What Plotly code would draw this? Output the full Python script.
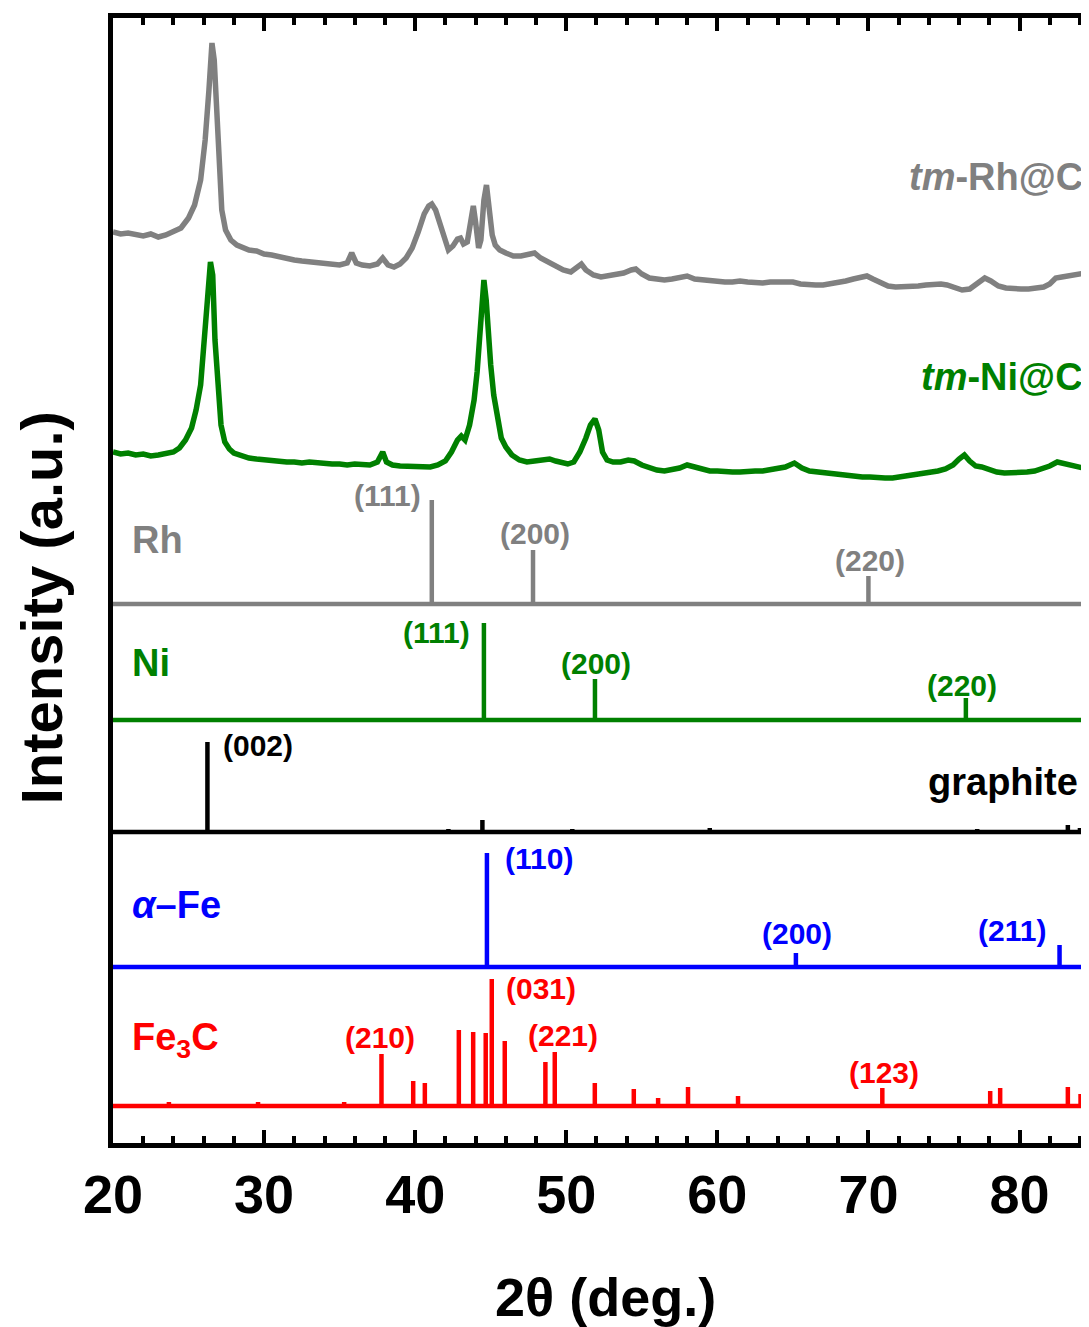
import plotly.graph_objects as go

# ---------------- data ----------------
# measured XRD patterns (2theta, relative intensity)
rh_tt = [20.0,20.5,21.0,21.5,22.0,22.5,23.0,23.5,24.0,24.5,25.0,25.4,25.8,26.1,26.35,26.55,26.7,26.85,27.0,27.2,27.45,27.8,28.2,28.6,29.0,29.5,30.0,30.5,31.0,31.5,32.0,32.5,33.0,33.5,34.0,34.5,35.0,35.5,35.8,36.1,36.5,37.0,37.5,37.85,38.2,38.6,39.0,39.4,39.8,40.2,40.6,40.9,41.1,41.35,41.6,41.9,42.2,42.5,42.8,43.0,43.2,43.45,43.7,43.85,44.0,44.2,44.35,44.55,44.72,44.9,45.1,45.3,45.6,46.0,46.5,47.0,47.5,47.9,48.3,48.8,49.3,49.8,50.3,50.7,51.0,51.3,51.8,52.3,52.8,53.3,53.8,54.3,54.6,55.0,55.5,56.0,56.5,57.0,57.5,58.0,58.5,59.0,59.5,60.0,60.5,61.0,61.5,62.0,62.5,63.0,63.5,64.0,64.5,65.0,65.5,66.0,66.5,67.0,67.5,68.0,68.5,69.0,69.5,69.9,70.3,70.8,71.3,71.8,72.3,72.8,73.3,73.8,74.3,74.8,75.2,75.7,76.2,76.7,77.2,77.7,78.1,78.6,79.1,79.6,80.1,80.6,81.1,81.6,82.0,82.4,82.8,83.3,83.8,84.3,84.8]
rh_int = [68,66,67,65,64,66,63,65,68,72,82,95,120,160,210,257,240,190,130,90,70,60,55,53,50,49,46,45,43,42,40,39,38,38,36,36,35,37,47,37,35,34,36,42,35,33,36,42,52,68,86,94,96,90,78,60,50,54,61,62,56,58,85,94,78,52,60,100,115,95,65,55,50,47,44,44,46,47,42,38,34,30,28,32,36,30,25,23,24,25,27,30,31,26,22,21,20,21,22,24,21,20,19,19,18,18,19,18,17,17,18,18,19,18,16,15,15,15,16,17,19,21,23,24,21,17,14,13,13,14,14,15,16,16,15,12,10,11,16,22,19,14,12,11,11,11,12,13,16,22,23,24,25,27,28]

ni_tt = [20.0,20.5,21.0,21.5,22.0,22.5,23.0,23.5,24.0,24.4,24.8,25.2,25.5,25.8,26.05,26.25,26.45,26.6,26.75,26.95,27.15,27.4,27.7,28.0,28.5,29.0,29.5,30.0,30.5,31.0,31.5,32.0,32.5,33.0,33.5,34.0,34.5,35.0,35.5,36.0,36.5,37.0,37.5,37.85,38.1,38.5,39.0,39.5,40.0,40.5,41.0,41.5,42.0,42.4,42.8,43.05,43.3,43.6,43.9,44.1,44.3,44.45,44.55,44.7,44.85,45.0,45.2,45.45,45.7,46.0,46.4,46.9,47.4,47.9,48.4,48.9,49.3,49.7,50.1,50.5,50.9,51.3,51.6,51.9,52.15,52.4,52.7,53.1,53.6,54.1,54.5,55.0,55.5,56.0,56.5,57.0,57.5,58.0,58.5,59.0,59.5,60.0,60.5,61.0,61.5,62.0,62.5,63.0,63.5,64.0,64.5,65.1,65.6,66.1,66.6,67.1,67.6,68.1,68.6,69.1,69.6,70.1,70.6,71.1,71.6,72.1,72.6,73.1,73.6,74.1,74.6,75.1,75.6,76.0,76.35,76.7,77.1,77.5,78.0,78.5,79.0,79.5,80.0,80.5,81.0,81.5,82.0,82.5,83.0,83.5,84.0,84.8]
ni_int = [28,26,27,25,26,24,25,26,28,32,40,52,70,95,135,180,218,205,140,85,55,38,31,27,24,22,21,20,19,19,18,18,17,18,17,16,16,16,15,16,15,15,18,28,18,15,14,14,14,14,13,15,19,28,40,44,40,55,80,108,150,195,200,180,145,115,85,60,42,33,25,20,18,19,20,21,19,17,16,18,28,42,55,61,50,28,20,18,18,20,19,15,12,10,9,10,12,15,13,10,9,9,8,8,8,9,9,9,10,11,13,17,12,9,8,7,7,6,5,4,3,3,2,2,2,3,4,5,6,7,9,11,15,21,25,19,14,13,10,8,7,7,7,8,9,11,14,18,16,15,13,10]

# reference stick patterns: peak positions (2theta) and relative heights
rh_ref_pos = [41.1, 47.8, 70.0]
rh_ref_h = [104, 54, 28]
ni_ref_pos = [44.55, 51.9, 76.45]
ni_ref_h = [97, 41, 22]
gr_ref_pos = [26.25, 42.2, 44.45, 50.4, 54.1, 59.5, 77.2, 83.2, 84.0]
gr_ref_h = [90, 3, 12, 3, 2, 4, 3, 7, 4]
fe_ref_pos = [44.75, 65.2, 82.65]
fe_ref_h = [114, 14, 22]
fe3c_ref_pos = [23.7, 26.4, 29.6, 35.3, 37.77, 39.87, 40.64, 42.89, 43.84, 44.67, 45.07, 45.93, 48.62, 49.24, 51.89, 54.47, 56.08, 58.06, 61.37, 70.92, 78.06, 78.72, 83.2, 84.04]
fe3c_ref_h = [4, 2, 4, 4, 52, 25, 23, 76, 74, 73, 127, 65, 44, 54, 23, 17, 8, 19, 10, 18, 15, 18, 19, 12]

x_ticks = [20, 30, 40, 50, 60, 70, 80]

# ---------------- layout constants ----------------
X0, X1 = 20, 84.6
OFF = {"rh": 843, "ni": 663, "rh_ref": 539, "ni_ref": 423, "gr_ref": 311, "fe_ref": 176, "fe3c_ref": 37}
GRAY, GREEN, BLUE, RED, BLACK = "#808080", "#008000", "#0000FF", "#FF0000", "#000000"
FONT = "Arial, Liberation Sans, sans-serif"

fig = go.Figure()

fig.add_trace(go.Scatter(x=rh_tt, y=[v + OFF["rh"] for v in rh_int], mode="lines",
                         line=dict(color=GRAY, width=5.5), hoverinfo="skip"))
fig.add_trace(go.Scatter(x=ni_tt, y=[v + OFF["ni"] for v in ni_int], mode="lines",
                         line=dict(color=GREEN, width=5.5), hoverinfo="skip"))


def sticks(pos, hts, base, color):
    xs = [X0 - 1, X1 + 1, None]
    ys = [base, base, None]
    for p, h in zip(pos, hts):
        xs += [p, p, None]
        ys += [base, base + h, None]
    fig.add_trace(go.Scatter(x=xs, y=ys, mode="lines", line=dict(color=color, width=4.5),
                             hoverinfo="skip"))


sticks(rh_ref_pos, rh_ref_h, OFF["rh_ref"], GRAY)
sticks(ni_ref_pos, ni_ref_h, OFF["ni_ref"], GREEN)
sticks(gr_ref_pos, gr_ref_h, OFF["gr_ref"], BLACK)
sticks(fe_ref_pos, fe_ref_h, OFF["fe_ref"], BLUE)
sticks(fe3c_ref_pos, fe3c_ref_h, OFF["fe3c_ref"], RED)

# labels: (text, x, y, color, size, xanchor)
labels = [
    ("<i>tm</i>-Rh@C", 84.35, 966, GRAY, 38, "right"),
    ("<i>tm</i>-Ni@C", 84.35, 766, GREEN, 38, "right"),
    ("Rh", 21.1, 603, GRAY, 38, "left"),
    ("(111)", 38.2, 648, GRAY, 30, "center"),
    ("(200)", 47.9, 610, GRAY, 30, "center"),
    ("(220)", 70.1, 583, GRAY, 30, "center"),
    ("Ni", 21.1, 480, GREEN, 38, "left"),
    ("(111)", 41.4, 511, GREEN, 30, "center"),
    ("(200)", 52.0, 480, GREEN, 30, "center"),
    ("(220)", 76.2, 458, GREEN, 30, "center"),
    ("(002)", 29.6, 398, BLACK, 30, "center"),
    ("graphite", 84.0, 361, BLACK, 38, "right"),
    ("<i>α</i>–Fe", 21.1, 238, BLUE, 38, "left"),
    ("(110)", 48.2, 285, BLUE, 30, "center"),
    ("(200)", 65.3, 210, BLUE, 30, "center"),
    ("(211)", 79.5, 213, BLUE, 30, "center"),
    ("Fe<sub>3</sub>C", 21.1, 103, RED, 38, "left"),
    ("(210)", 37.7, 106, RED, 30, "center"),
    ("(031)", 48.3, 155, RED, 30, "center"),
    ("(221)", 49.8, 108, RED, 30, "center"),
    ("(123)", 71.0, 71, RED, 30, "center"),
]
for t, x, y, c, s, xa in labels:
    fig.add_annotation(x=x, y=y, xref="x", yref="y", text=t, showarrow=False,
                       xanchor=xa, yanchor="middle",
                       font=dict(family=FONT, size=s, color=c, weight="bold"))

fig.add_annotation(x=0.505, y=-0.137, xref="paper", yref="paper", text="2θ (deg.)",
                   showarrow=False, xanchor="center", yanchor="middle",
                   font=dict(family=FONT, size=54, color=BLACK, weight="bold"))
fig.add_annotation(x=-0.073, y=0.476, xref="paper", yref="paper", text="Intensity (a.u.)",
                   showarrow=False, textangle=-90, xanchor="center", yanchor="middle",
                   font=dict(family=FONT, size=58, color=BLACK, weight="bold"))

# page body has an 8px default margin, so the figure is 8px smaller than the window
fig.update_layout(
    width=1081, height=1319,
    margin=dict(l=105, r=0, t=10, b=184),
    plot_bgcolor="white", paper_bgcolor="white",
    showlegend=False,
)
fig.update_xaxes(
    range=[X0, X1], tickvals=x_ticks, ticktext=[str(v) for v in x_ticks],
    ticks="inside", ticklen=13, tickwidth=4, tickcolor=BLACK,
    showline=True, linewidth=5, linecolor=BLACK, mirror="ticks",
    showgrid=False, zeroline=False,
    minor=dict(dtick=2, tick0=20, ticks="inside", ticklen=7, tickwidth=4, tickcolor=BLACK, showgrid=False),
    tickfont=dict(family=FONT, size=54, color=BLACK, weight="bold"),
    ticklabelstandoff=0,
)
fig.update_yaxes(
    range=[0, 1125], showticklabels=False, ticks="",
    showline=True, linewidth=5, linecolor=BLACK, mirror=False,
    showgrid=False, zeroline=False,
)

fig.write_html("out.html")
